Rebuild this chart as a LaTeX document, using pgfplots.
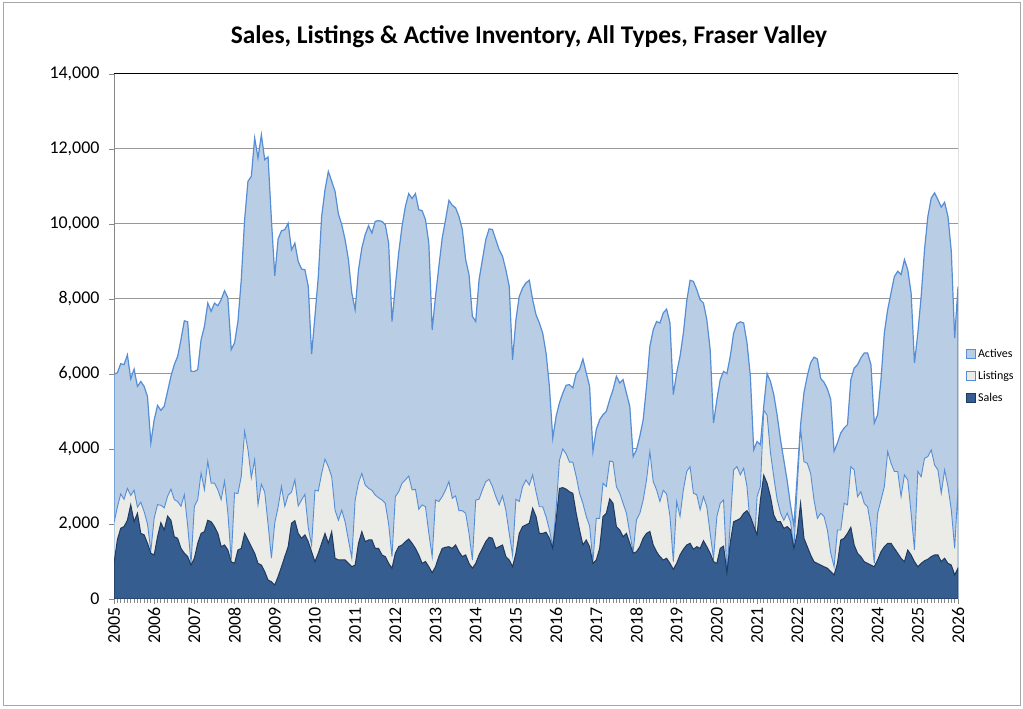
\documentclass[border=0pt]{standalone}
\usepackage{fontspec}
\setmainfont{Carlito}
\usepackage{pgfplots}
\usepackage{pgfplotstable}
\pgfplotsset{compat=1.18}

\definecolor{actfill}{HTML}{B9CDE5}
\definecolor{actline}{HTML}{558ED5}
\definecolor{listfill}{HTML}{EBEBE7}
\definecolor{salesfill}{HTML}{365D8F}
\definecolor{salesline}{HTML}{1F3A5F}
\definecolor{gridgray}{HTML}{989898}
\definecolor{axgray}{HTML}{878787}
\definecolor{framegray}{HTML}{A6A6A6}

% monthly, Jan 2005 .. Jan 2026: A = actives, L = listings, S = sales
\pgfplotstableread{
A L S
6000 2030 950
6030 2450 1575
6275 2800 1885
6250 2660 1930
6510 2950 2100
5870 2760 2510
6130 2900 2060
5670 2450 2285
5800 2580 1750
5670 2330 1710
5400 2000 1485
4160 1280 1220
4780 2160 1175
5160 2515 1660
5030 2500 2035
5140 2430 1840
5540 2740 2210
5940 2930 2100
6250 2650 1660
6470 2600 1620
6915 2470 1350
7420 2780 1220
7390 1950 1130
6070 950 905
6070 2470 1085
6115 2650 1485
6915 3360 1750
7270 2915 1795
7890 3670 2100
7670 3090 2060
7890 3090 1930
7820 2915 1750
7980 2650 1395
8220 3140 1440
8030 2290 1305
6650 1050 995
6830 2830 950
7400 2810 1305
8515 3270 1350
10115 4470 1750
11140 3980 1575
11270 3230 1395
12290 3715 1220
11760 2515 950
12380 3060 905
11715 2850 730
11790 2000 505
10115 1090 460
8620 2030 375
9600 2450 595
9820 3000 860
9850 2470 1130
10020 2770 1395
9310 2850 2020
9490 3180 2090
9000 2480 1750
8800 2640 1620
8780 2790 1710
8340 1900 1530
6530 1440 1260
7540 2900 995
8600 2880 1220
10200 3350 1485
10915 3730 1750
11400 3530 1485
11140 3260 1795
10870 2370 1085
10270 2100 1040
9980 2370 1040
9580 2060 1040
9050 1570 950
8160 1090 860
7715 2640 905
8780 3100 1485
9360 3350 1795
9715 3040 1530
9955 2950 1575
9760 2900 1575
10070 2770 1350
10090 2700 1350
10070 2640 1175
9980 2550 1130
9490 2000 950
7400 1130 820
8340 2730 1220
9230 2860 1395
9940 3085 1440
10470 3175 1530
10810 3280 1600
10680 2910 1485
10810 2925 1350
10380 2390 1175
10355 2510 950
10115 2460 1000
9490 1750 860
7180 1130 700
8070 2640 860
8870 2600 1130
9630 2730 1350
10115 2910 1380
10630 3130 1395
10500 2685 1350
10430 2750 1440
10200 2355 1260
9850 2355 1130
9050 2285 1175
8650 1750 950
7540 1040 820
7400 2640 950
8515 2660 1175
9050 2910 1350
9580 3130 1530
9870 3190 1645
9850 2995 1620
9580 2730 1350
9315 2510 1395
9140 2750 1440
8780 2370 1130
8340 1750 1040
6380 1170 860
7450 2660 1220
8070 2600 1750
8295 2995 1930
8430 3175 1975
8500 3040 2020
7980 3310 2420
7580 2860 2200
7360 2460 1750
7090 2460 1750
6560 2200 1780
5670 1840 1620
4290 1400 1350
4870 2400 2100
5230 3700 2950
5490 4000 2970
5700 3870 2930
5715 3650 2860
5630 3650 2820
6010 3270 2285
6115 2820 1840
6400 2550 1440
6030 2200 1575
5670 1950 1395
3940 1000 950
4515 2150 1040
4780 2150 1350
4915 3085 2200
5005 3000 2285
5315 3680 2670
5580 3660 2550
5940 2995 1930
5760 2820 1840
5850 2550 1660
5490 2285 1750
5140 1750 1485
3800 1260 1220
3980 2110 1260
4340 2285 1395
4780 2640 1620
5670 3175 1750
6740 3930 1800
7180 3130 1440
7400 2910 1260
7360 2600 1130
7630 2900 1040
7730 2800 1085
7360 2200 950
5450 1000 790
6030 2600 950
6470 2200 1175
7090 2910 1325
7940 3400 1440
8500 3530 1485
8470 2820 1325
8250 2780 1395
7980 2380 1350
7890 2730 1555
7450 2460 1395
6650 1750 1220
4690 1080 995
5315 2200 950
5850 2550 1350
6070 2640 1410
6010 700 700
6470 2000 1500
7090 3440 2060
7340 3530 2100
7390 3310 2150
7360 3485 2285
6830 2995 2355
5940 1930 2200
3980 1100 1950
4200 2730 1710
4115 3000 2640
5140 5040 3300
6010 4900 3085
5800 3900 2730
5450 3250 2240
4900 2650 2060
4250 2290 2060
3700 2100 1885
3150 2290 1930
2500 2050 1840
1950 1350 1350
3300 3000 1750
4650 4550 2550
5500 3660 1620
5950 3620 1395
6300 3350 1175
6450 2640 995
6400 2150 950
5880 2285 905
5780 2200 860
5600 1840 820
5320 1220 730
3940 860 640
4160 1840 950
4430 1840 1575
4560 2550 1620
4650 2510 1750
5850 3530 1910
6160 3440 1440
6250 2730 1220
6430 2860 1130
6560 2550 995
6560 2460 950
6250 1930 905
4690 950 860
4915 2285 1040
5850 2640 1260
7090 2995 1395
7715 3930 1485
8160 3620 1485
8600 3400 1350
8740 3400 1220
8650 2730 1085
9050 3310 995
8780 3175 1305
8160 2285 1175
6290 1310 995
7090 3400 860
8070 3260 950
9315 3750 1020
10200 3800 1060
10690 3975 1130
10830 3575 1175
10650 3440 1175
10450 2820 995
10580 3440 1085
10200 2995 950
9270 2370 905
6960 1350 640
8330 2950 820
}\data

\begin{document}
\begin{tikzpicture}
\path[use as bounding box, fill=white] (0,0) rectangle (1023bp,709bp);
\draw[framegray, line width=1bp] (3bp,3bp) rectangle (1020bp,706bp);
\node[font=\bfseries\fontsize{25.5}{30}\selectfont] at (529bp,672bp)
  {Sales, Listings \& Active Inventory, All Types, Fraser Valley};

\begin{axis}[
    at={(114bp,110bp)}, anchor=south west,
    scale only axis, width=844bp, height=525bp,
    xmin=0, xmax=252, ymin=0, ymax=14000,
    axis lines*=left,
    axis line style={draw=axgray, line width=1bp},
    xtick={0,12,...,252},
    xticklabels={2005,2006,2007,2008,2009,2010,2011,2012,2013,2014,2015,
                 2016,2017,2018,2019,2020,2021,2022,2023,2024,2025,2026},
    minor x tick num=11,
    ytick={0,2000,...,14000},
    scaled y ticks=false,
    /pgf/number format/fixed,
    /pgf/number format/1000 sep={,},
    /pgf/number format/assume math mode=true,
    tick align=outside,
    major tick length=5bp, minor tick length=4bp,
    tick style={draw=axgray, line width=0.8bp},
    ymajorgrids,
    grid style={draw=gridgray, line width=1bp},
    x tick label style={rotate=90, anchor=east, font=\fontsize{18}{20}\selectfont},
    y tick label style={font=\fontsize{18}{20}\selectfont, xshift=-6bp},
    legend style={at={(1.006,0.425)}, anchor=west, draw=none, fill=none,
                  font=\fontsize{12}{14}\selectfont, row sep=8bp},
    legend cell align=left,
    legend image code/.code={\draw[#1, line width=0.8bp] (0bp,-4.5bp) rectangle (9bp,4.5bp);},
]
\draw[black, line width=1bp] (axis cs:0,14000) -- (axis cs:252,14000) -- (axis cs:252,0);

\addplot[draw=actline, line width=1.2bp, fill=actfill]
    table[x expr=\coordindex, y=A] {\data} \closedcycle;
\addlegendentry{Actives}

\addplot[draw=actline, line width=0.9bp, fill=listfill]
    table[x expr=\coordindex, y=L] {\data} \closedcycle;
\addlegendentry{Listings}

\addplot[draw=salesline, line width=1bp, fill=salesfill]
    table[x expr=\coordindex, y=S] {\data} \closedcycle;
\addlegendentry{Sales}
\end{axis}
\end{tikzpicture}
\end{document}
